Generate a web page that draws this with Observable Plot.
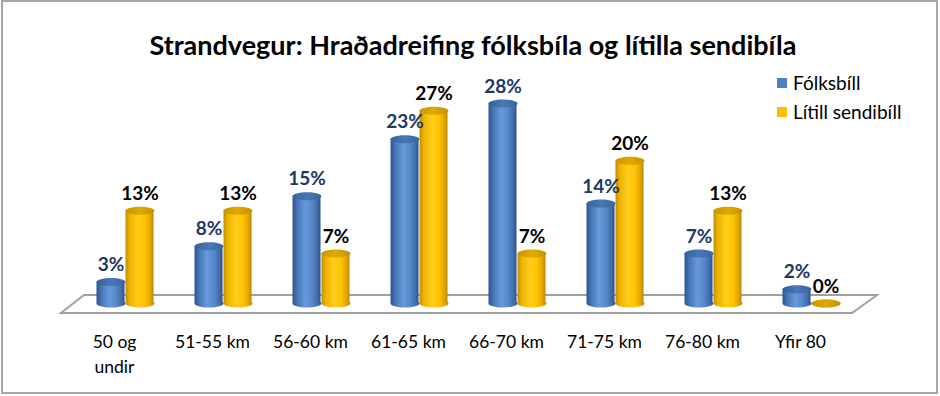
<!DOCTYPE html>
<html>
<head>
<meta charset="utf-8">
<script src="https://cdn.jsdelivr.net/npm/d3@7"></script>
<script src="https://cdn.jsdelivr.net/npm/@observablehq/plot@0.6"></script>
<style>
  html, body { margin: 0; padding: 0; background: #fff; }
  #wrap { position: relative; width: 940px; height: 396px; font-family: Lato, "Open Sans", sans-serif; overflow: hidden; }
  #border { position: absolute; left: 1px; top: 0px; width: 937px; height: 394px; border: 2px solid #a6a6a6; box-sizing: border-box; pointer-events: none; }
  #title { position: absolute; left: 3px; top: 27px; width: 940px; text-align: center; font-size: 27px; font-weight: bold; line-height: 36px; color: #000; white-space: nowrap; }
  .leg { position: absolute; left: 777px; font-size: 19px; line-height: 20px; color: #000; white-space: nowrap; }
  .leg span.sw { position: absolute; left: 0; top: 5px; width: 10px; height: 10px; }
  .leg span.tx { position: absolute; left: 16px; top: 0; }
</style>
</head>
<body>
<svg width="0" height="0" style="position:absolute">
  <defs>
    <linearGradient id="blueBody" x1="0" x2="1" y1="0" y2="0">
      <stop offset="0" stop-color="#2d548c"/>
      <stop offset="0.15" stop-color="#4473b1"/>
      <stop offset="0.45" stop-color="#6799dd"/>
      <stop offset="0.7" stop-color="#5687ca"/>
      <stop offset="0.9" stop-color="#3f6ba9"/>
      <stop offset="1" stop-color="#2c5088"/>
    </linearGradient>
    <linearGradient id="blueTop" x1="0" x2="1" y1="0" y2="0">
      <stop offset="0" stop-color="#35609a"/>
      <stop offset="0.5" stop-color="#4a78b6"/>
      <stop offset="1" stop-color="#3a649e"/>
    </linearGradient>
    <linearGradient id="yellowBody" x1="0" x2="1" y1="0" y2="0">
      <stop offset="0" stop-color="#c08f00"/>
      <stop offset="0.15" stop-color="#eeb200"/>
      <stop offset="0.45" stop-color="#ffcd1c"/>
      <stop offset="0.7" stop-color="#ffc300"/>
      <stop offset="0.9" stop-color="#dda300"/>
      <stop offset="1" stop-color="#b78800"/>
    </linearGradient>
    <linearGradient id="yellowTop" x1="0" x2="1" y1="0" y2="0">
      <stop offset="0" stop-color="#c79500"/>
      <stop offset="0.5" stop-color="#e0aa00"/>
      <stop offset="1" stop-color="#c49200"/>
    </linearGradient>
  </defs>
</svg>
<div id="wrap">
  <div id="chart"></div>
  <div id="title">Strandvegur: Hraðadreifing fólksbíla og lítilla sendibíla</div>
  <div id="legend"></div>
  <div id="border"></div>
</div>
<script>
// ---- Data ----
const categories = ["50 og undir", "51-55 km", "56-60 km", "61-65 km", "66-70 km", "71-75 km", "76-80 km", "Yfir 80"];
const seriesNames = ["Fólksbíll", "Lítill sendibíll"];
const folksbill = [3, 8, 15, 23, 28, 14, 7, 2];
const sendibill = [13, 13, 7, 27, 7, 20, 13, 0];
const categoryLabels = ["50 og\nundir", "51-55 km", "56-60 km", "61-65 km", "66-70 km", "71-75 km", "76-80 km", "Yfir 80"];

const blueData = categories.map((c, i) => ({cat: c, value: folksbill[i]}));
const yellowData = categories.map((c, i) => ({cat: c, value: sendibill[i]}));

// Ellipse symbol for cylinder caps
function ellipseSymbol(rx, ry) {
  const k = 0.5523;
  return {
    draw(ctx) {
      ctx.moveTo(-rx, 0);
      ctx.bezierCurveTo(-rx, -ry * k, -rx * k, -ry, 0, -ry);
      ctx.bezierCurveTo(rx * k, -ry, rx, -ry * k, rx, 0);
      ctx.bezierCurveTo(rx, ry * k, rx * k, ry, 0, ry);
      ctx.bezierCurveTo(-rx * k, ry, -rx, ry * k, -rx, 0);
      ctx.closePath();
    }
  };
}
const cap = ellipseSymbol(14.5, 4);
const font = "Lato, 'Open Sans', sans-serif";

const blueDx = -3.5, yellowDx = 25.5;

function cylinder(data, dx, bodyFill, topFill, insetLeft, insetRight) {
  return [
    Plot.dot(data, {x: "cat", y: 0, dx, symbol: cap, fill: bodyFill, stroke: "none", r: 1}),
    Plot.barY(data, {x: "cat", y: "value", insetLeft, insetRight, fill: bodyFill}),
    Plot.dot(data, {x: "cat", y: "value", dx, symbol: cap, fill: topFill, stroke: "none", r: 1})
  ];
}

const plot = Plot.plot({
  width: 940,
  height: 396,
  marginTop: 303 - 7.143 * 30,
  marginBottom: 93,
  marginLeft: 61,
  marginRight: 88,
  style: {fontFamily: font, background: "transparent", overflow: "visible"},
  x: {domain: categories, padding: 0, axis: null},
  y: {domain: [0, 30], axis: null},
  marks: [
    ...cylinder(blueData, blueDx, "url(#blueBody)", "url(#blueTop)", 31.5, 38.5),
    ...cylinder(yellowData, yellowDx, "url(#yellowBody)", "url(#yellowTop)", 60.5, 9.5),
    Plot.text(blueData, {x: "cat", y: "value", dx: blueDx, dy: -17, text: d => d.value + "%", fill: "#1f3864", fontWeight: "bold", fontSize: 19}),
    Plot.text(yellowData, {x: "cat", y: "value", dx: yellowDx, dy: -17, text: d => d.value + "%", fill: "#000", fontWeight: "bold", fontSize: 19}),
    Plot.text(categories, {x: d => d, frameAnchor: "bottom", lineAnchor: "top", dy: 27, text: (d, i) => categoryLabels[i], fontSize: 17.5, lineHeight: 1.43, fill: "#000"})
  ]
});

// Floor drawn from the scales (depth offsets are styling)
const xs = plot.scale("x"), ys = plot.scale("y");
const x0 = xs.range[0], x1 = xs.range[1], yb = ys.apply(0);
const svg = d3.select(plot);
svg.insert("polygon", ":first-child")
  .attr("points", [[x0, yb + 10], [x1, yb + 10], [x1 + 25, yb - 8], [x0 + 23, yb - 8]].map(p => p.join(",")).join(" "))
  .attr("fill", "#fff")
  .attr("stroke", "#a0a0a0")
  .attr("stroke-width", 2)
  .attr("stroke-linejoin", "miter");

document.getElementById("chart").appendChild(plot);

// Legend
const legendColors = ["#4f81bd", "#ffc000"];
const legend = document.getElementById("legend");
seriesNames.forEach((name, i) => {
  const d = document.createElement("div");
  d.className = "leg";
  d.style.top = (73 + i * 29) + "px";
  d.innerHTML = `<span class="sw" style="background:${legendColors[i]}"></span><span class="tx">${name}</span>`;
  legend.appendChild(d);
});
</script>
</body>
</html>
